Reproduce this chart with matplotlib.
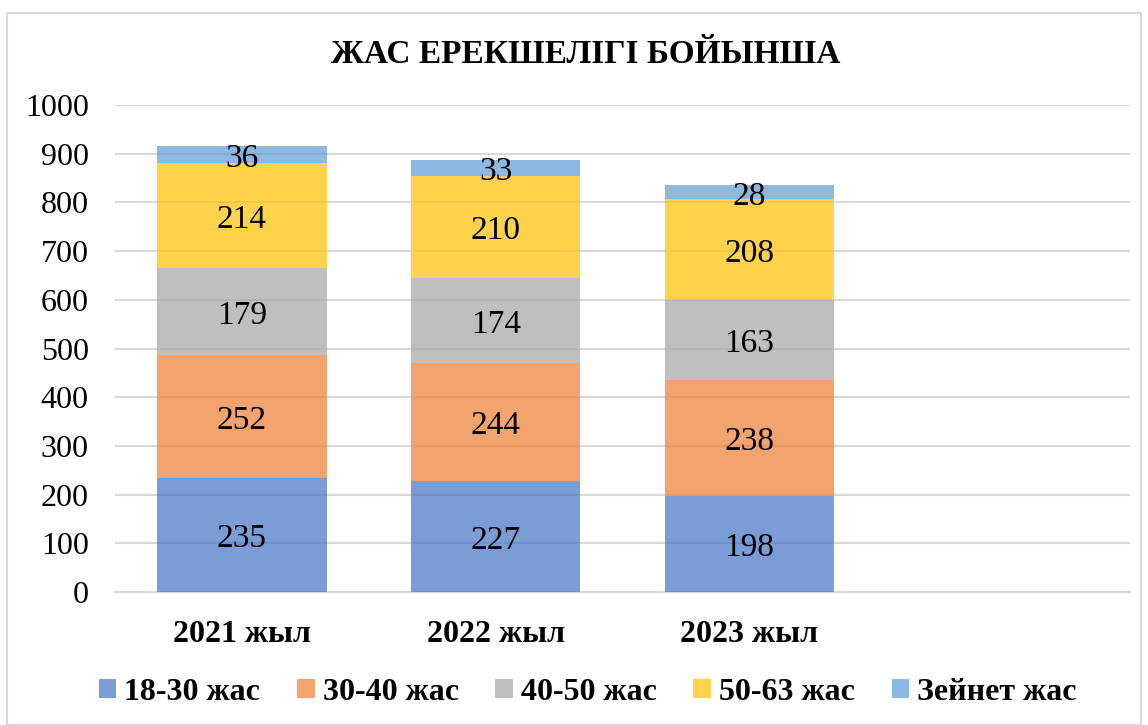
import numpy as np
import matplotlib.pyplot as plt
from matplotlib.patches import Rectangle

plt.rcParams['font.family'] = ['Liberation Serif', 'DejaVu Serif']

years = ["2021 жыл", "2022 жыл", "2023 жыл"]
groups = ["18-30 жас", "30-40 жас", "40-50 жас", "50-63 жас", "Зейнет жас"]
age_18_30 = [235, 227, 198]
age_30_40 = [252, 244, 238]
age_40_50 = [179, 174, 163]
age_50_63 = [214, 210, 208]
retired = [36, 33, 28]
series = [age_18_30, age_30_40, age_40_50, age_50_63, retired]
colors = ["#4472C4", "#ED7D31", "#A5A5A5", "#FFC000", "#5B9BD5"]

fig = plt.figure(figsize=(11.48, 7.25), dpi=100)
ax = fig.add_axes([0.1002, 0.1834, 0.8841, 0.6717])

# chart area border
fig.patches.append(Rectangle((7/1148, 0), 1134/1148, 712/725, transform=fig.transFigure,
                             fill=False, edgecolor="#D9D9D9", linewidth=1.5))

x = np.arange(len(years))
bottom = np.zeros(len(years))
for vals, name, c in zip(series, groups, colors):
    bars = ax.bar(x, vals, 0.667, bottom=bottom, color=c, alpha=0.7, label=name, zorder=3)
    labs = ax.bar_label(bars, labels=[str(v) for v in vals], label_type="center", fontsize=24, zorder=4)
    for t in labs:
        t.xyann = (0, -3)
    bottom += np.array(vals)

ax.set_xlim(-0.5, 3.5)
ax.set_ylim(0, 1000)
ax.set_yticks(range(0, 1001, 100))
ax.set_xticks(x)
ax.set_xticklabels(years, fontsize=23, fontweight="bold")
ax.tick_params(axis="y", labelsize=23, length=0, pad=19)
ax.tick_params(axis="x", length=0, pad=20)
ax.grid(axis="y", color="#D9D9D9", linewidth=1.5, zorder=0)
for s in ["top", "right", "left"]:
    ax.spines[s].set_visible(False)
ax.spines["bottom"].set_color("#D9D9D9")
ax.spines["bottom"].set_linewidth(1.5)

fig.text(0.51, 0.925, "ЖАС ЕРЕКШЕЛІГІ БОЙЫНША", ha="center", va="center",
         fontsize=24, fontweight="bold")

fig.legend(loc="center", bbox_to_anchor=(0.512, 0.045), ncol=5, frameon=False,
           prop={"size": 23, "weight": "bold"}, handlelength=0.55, handleheight=0.55,
           handletextpad=0.25, columnspacing=1.15)

fig.savefig("out.png", dpi=100)
